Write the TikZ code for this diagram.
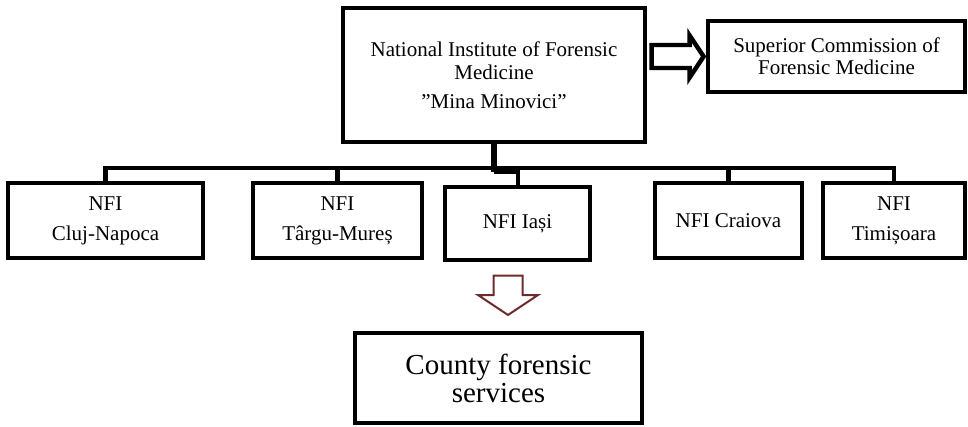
\documentclass[tikz,border=0pt]{standalone}
\usepackage{fontspec}
\setmainfont{Liberation Serif}
\usetikzlibrary{positioning,calc}
\definecolor{ArrowBrown}{HTML}{6E2B2B}

\begin{document}
\begin{tikzpicture}[
  x=0.5pt, y=-0.5pt,
  box/.style={draw, line width=2.4pt, align=center, inner sep=0pt, font=\fontsize{10.5}{15}\selectfont},
  rowbox/.style={box, minimum height=37.5pt},
  link/.style={line width=2.4pt, line join=miter},
  blockarrow/.style={draw, line width=2.2pt, fill=white, line join=miter},
  downarrow/.style={draw=ArrowBrown, line width=1pt, fill=white}
]
\useasboundingbox (0,0) rectangle (968,427);

% head office and commission
\node[box, minimum width=151pt, minimum height=67pt, font=\fontsize{10.5}{11.5}\selectfont] (inst) at (494,75)
  {National Institute of Forensic\\Medicine\\[3pt]”Mina Minovici”};
\node[box, minimum width=128.5pt, minimum height=35.5pt, font=\fontsize{10.5}{11}\selectfont] (sup) at (836.5,56.5)
  {Superior Commission of\\Forensic Medicine};

% regional institutes
\node[rowbox, minimum width=97.5pt] (cluj) at (105.5,220.5) {NFI\\Cluj-Napoca};
\node[rowbox, minimum width=84.5pt] (targu) at (337.5,220.5) {NFI\\Târgu-Mureș};
\node[rowbox, minimum width=72.5pt, minimum height=36.5pt] (iasi) at (517.5,223.5) {NFI Iași};
\node[rowbox, minimum width=73.5pt] (craiova) at (728.5,220.5) {NFI Craiova};
\node[rowbox, minimum width=71pt] (timis) at (894,220.5) {NFI\\Timișoara};

\node[box, minimum width=143.5pt, minimum height=45pt, font=\fontsize{14.5}{14}\selectfont] (county) at (498.5,378)
  {County forensic\\services};

% tree lines
\coordinate (bus) at (0,168);
\coordinate (jog) at (0,172);
\draw[link] (cluj.north) -- (cluj.north |- bus) -- (timis.north |- bus) -- (timis.north);
\foreach \n in {targu,craiova}
  \draw[link] (\n.north) -- (\n.north |- bus);
\draw[link, line width=3pt] (inst.south) -- (inst.south |- jog);
\draw[link, line width=2pt] (inst.south |- jog) -| (iasi.north);

% block arrows
\draw[blockarrow] ($(sup.west)+(-54,-11.5)$) -- ($(sup.west)+(-16,-11.5)$) -- ($(sup.west)+(-16,-21)$)
  -- ($(sup.west)+(-2,0)$) -- ($(sup.west)+(-16,21)$) -- ($(sup.west)+(-16,11.5)$)
  -- ($(sup.west)+(-54,11.5)$) -- cycle;
\coordinate (mid) at ($(iasi.south)!0.5!(county.north)$);
\draw[downarrow] ($(mid)+(-14.5,-21)$) -- ($(mid)+(14.5,-21)$) -- ($(mid)+(14.5,-1.5)$) -- ($(mid)+(30,-1.5)$)
  -- ($(mid)+(0,18.5)$) -- ($(mid)+(-30,-1.5)$) -- ($(mid)+(-14.5,-1.5)$) -- cycle;
\end{tikzpicture}
\end{document}
